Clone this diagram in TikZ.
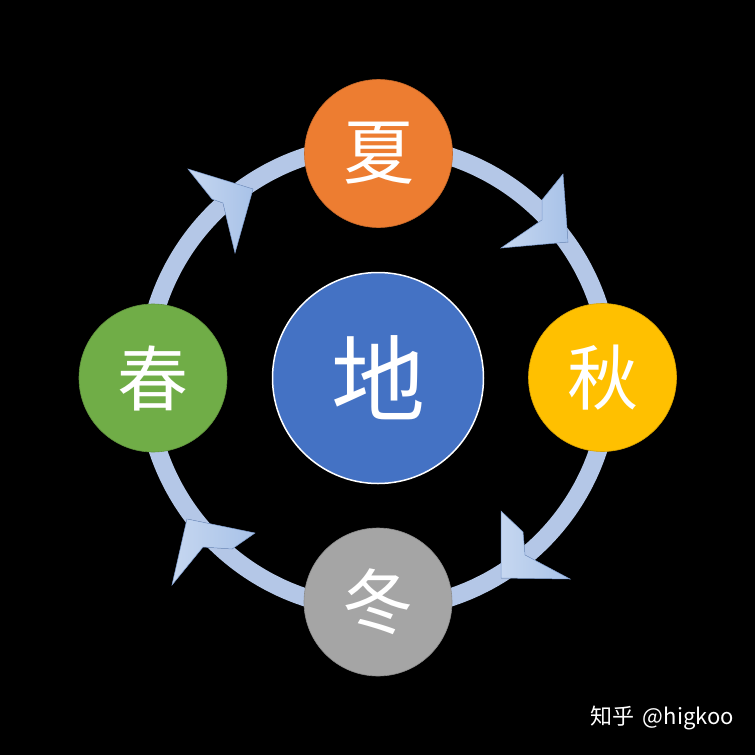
\documentclass[tikz,border=0pt]{standalone}
\usepackage{fontspec}
\newfontfamily\cjk{Noto Sans CJK SC}
\definecolor{ringC}{HTML}{B4C7E7}
\definecolor{arrL}{HTML}{C6D7F0}
\definecolor{arrR}{HTML}{A8C2E8}
\definecolor{arrEdge}{HTML}{7F9ED0}
\definecolor{xiaC}{HTML}{ED7D31}
\definecolor{qiuC}{HTML}{FFC000}
\definecolor{dongC}{HTML}{A5A5A5}
\definecolor{chunC}{HTML}{70AD47}
\definecolor{diC}{HTML}{4472C4}
\begin{document}
\begin{tikzpicture}[x=1pt,y=-1pt,
  season/.style={circle, minimum size=148pt, inner sep=0pt, text=white,
    draw=#1!85!black, line width=0.6pt, fill=#1,
    font=\cjk\fontsize{71}{71}\selectfont},
  earth/.style={circle, minimum size=211pt, inner sep=0pt, text=white,
    fill=diC, draw=white, line width=1.5pt,
    font=\cjk\fontsize{94}{94}\selectfont},
  ringline/.style={draw=ringC, line width=18pt},
  arrowhd/.style={left color=arrL, right color=arrR, draw=arrEdge, line width=0.5pt, line join=miter},
  wmtext/.style={text=white, inner sep=0pt, font=\cjk\fontsize{22}{22}\selectfont}]
\fill[black] (0,0) rectangle (755,755);
\useasboundingbox (0,0) rectangle (755,755);
\coordinate (o) at (378,377);
\draw[ringline] (o) circle[radius=232pt];
% arrowheads (tip, barb, notch, notch, barb)
\coordinate (trT) at (568,242);
\filldraw[arrowhd] (trT) -- (563,174) -- (542,200) -- (542,220) -- (501,248) -- cycle;
\coordinate (brT) at (501,578);
\filldraw[arrowhd] (brT) -- (570,579) -- (525,555) -- (523,532) -- (501,511) -- cycle;
\coordinate (blT) at (187,519);
\filldraw[arrowhd] (blT) -- (255,533) -- (232,549) -- (203,547) -- (172,585) -- cycle;
\coordinate (tlT) at (253,189);
\filldraw[arrowhd] (tlT) -- (188,169) -- (212,199) -- (223,203) -- (235,253) -- cycle;
% circles
\node[season=xiaC] (xia) at (378.5,153.5) {夏};
\node[season=qiuC] (qiu) at (602.5,377.5) {秋};
\node[season=dongC] (dong) at (378,602) {冬};
\node[season=chunC] (chun) at (153,378) {春};
\node[earth] (di) at (378,378) {地};
\node[wmtext] (wm) at (662,718) {知乎\hspace{4pt} @higkoo};
\end{tikzpicture}
\end{document}
